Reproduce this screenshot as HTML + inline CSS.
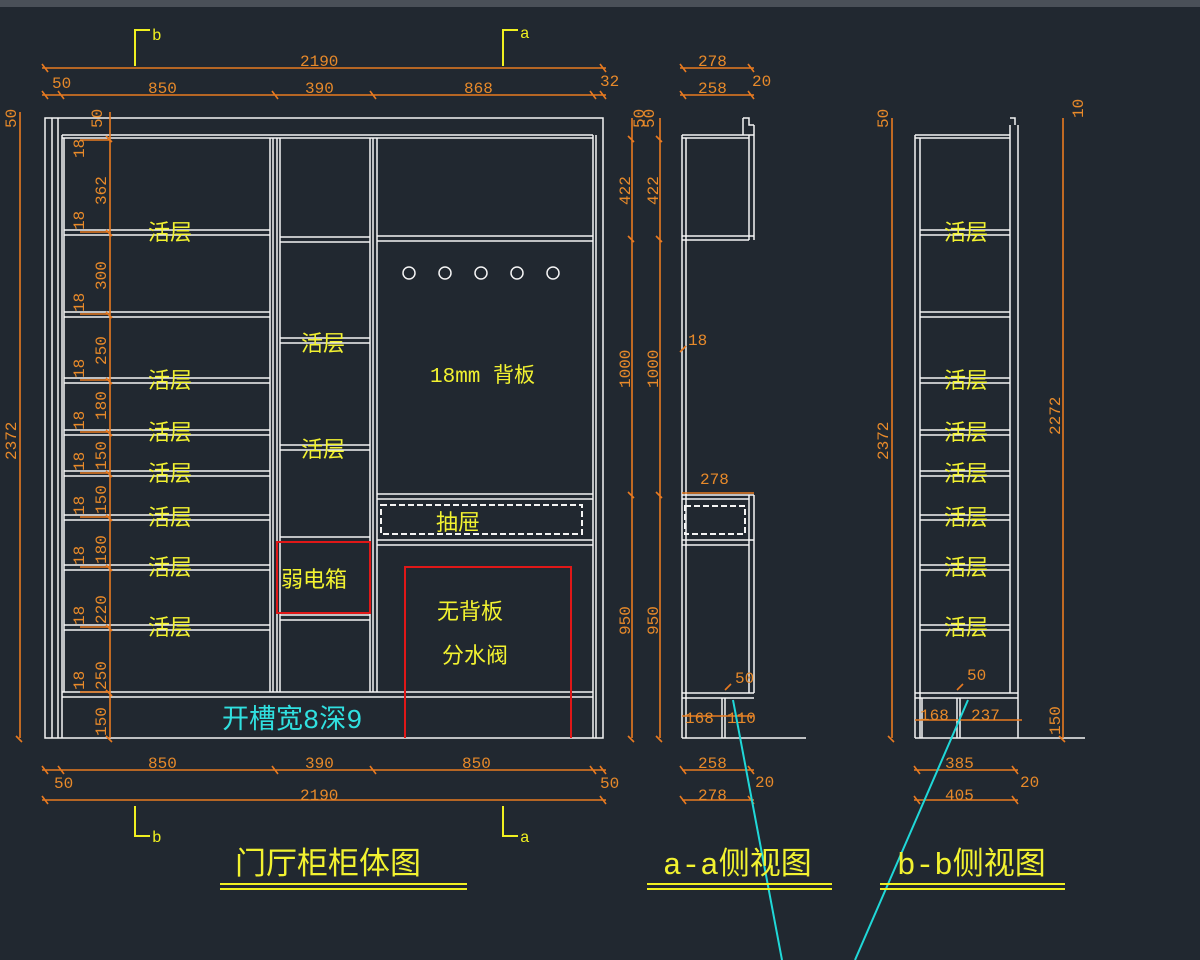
<!DOCTYPE html>
<html><head><meta charset="utf-8"><style>
html,body{margin:0;padding:0;background:#212830;width:1200px;height:960px;overflow:hidden}
svg{display:block}
.w{stroke:#f4f4f4;stroke-width:1.5;fill:none}
.o{stroke:#e87a20;stroke-width:1.6;fill:none}
.r{stroke:#e01818;stroke-width:2;fill:none}
.y{stroke:#f0f020;stroke-width:2;fill:none}
.c{stroke:#20d8d8;stroke-width:2;fill:none}
.d{stroke:#f4f4f4;stroke-width:2;fill:none;stroke-dasharray:6 3}
text{font-family:"Liberation Mono","Noto Sans CJK SC",monospace}
.ot{fill:#e88a2a;font-size:16px}
.yt{fill:#f2f230;font-family:"Liberation Sans","Noto Sans CJK SC",sans-serif;font-size:22px}
</style></head><body>
<svg width="1200" height="960" viewBox="0 0 1200 960">
<rect x="0" y="0" width="1200" height="7" fill="#4a5058"/>
<!-- section markers -->
<path class="y" d="M135 66V30H150M503 66V30H518M135 806V836H150M503 806V836H518"/>
<text x="152" y="40" fill="#f0f020" font-size="16">b</text>
<text x="520" y="38" fill="#f0f020" font-size="16">a</text>
<text x="152" y="842" fill="#f0f020" font-size="16">b</text>
<text x="520" y="842" fill="#f0f020" font-size="16">a</text>
<!-- top dims -->
<path class="o" d="M42 68H606M42 95H606M42 64l6 8M600 64l6 8M42 91l6 8M58 91l6 8M272 91l6 8M370 91l6 8M590 91l6 8M600 91l6 8"/>
<text class="ot" x="300" y="66">2190</text>
<text class="ot" x="52" y="88">50</text><text class="ot" x="148" y="93">850</text>
<text class="ot" x="305" y="93">390</text><text class="ot" x="464" y="93">868</text>
<text class="ot" x="600" y="86">32</text>
<!-- bottom dims -->
<path class="o" d="M42 770H606M42 800H606M42 766l6 8M58 766l6 8M272 766l6 8M370 766l6 8M590 766l6 8M600 766l6 8M42 796l6 8M600 796l6 8"/>
<text class="ot" x="148" y="768">850</text><text class="ot" x="305" y="768">390</text>
<text class="ot" x="462" y="768">850</text><text class="ot" x="54" y="788">50</text><text class="ot" x="600" y="788">50</text>
<text class="ot" x="300" y="800">2190</text>
<!-- main cabinet -->
<path class="w" d="M45 118H603V738H45ZM58 118V738M52 118V738M62 135H593M62 138H593M62 135V738M64 138V692M593 135V738M596 135V738M270 138V692M273 138V692M277 138V692M280 138V692M370 138V692M373 138V692M377 138V692M62 692H593M62 697H593"/>
<path class="w" d="M64 230H270M64 235H270M64 312H270M64 317H270M64 378H270M64 383H270M64 430H270M64 435H270M64 471H270M64 476H270M64 515H270M64 520H270M64 565H270M64 570H270M64 625H270M64 630H270"/>
<path class="w" d="M280 237H370M280 242H370M280 338H370M280 343H370M280 445H370M280 450H370M280 537H370M280 542H370M280 615H370M280 620H370"/>
<path class="w" d="M377 236H593M377 241H593M377 494H593M377 499H593M377 540H593M377 545H593"/>
<rect class="d" x="381" y="505" width="201" height="29"/>
<rect class="r" x="277" y="542" width="93" height="71"/>
<path class="r" d="M405 738V567H571V738"/>
<g class="w"><circle cx="409" cy="273" r="6"/><circle cx="445" cy="273" r="6"/><circle cx="481" cy="273" r="6"/><circle cx="517" cy="273" r="6"/><circle cx="553" cy="273" r="6"/></g>
<!-- left dims -->
<path class="o" d="M20 112V738M110 112V738M16 736l6 6M106 136l6 6M106 230l6 6M106 312l6 6M106 378l6 6M106 430l6 6M106 471l6 6M106 515l6 6M106 565l6 6M106 625l6 6M106 690l6 6M106 736l6 6M80 140H110M80 232H110M80 314H110M80 380H110M80 432H110M80 473H110M80 517H110M80 567H110M80 627H110M80 692H110"/>
<g class="ot" font-size="15">
<text transform="translate(16,128) rotate(-90)">50</text>
<text transform="translate(102,128) rotate(-90)">50</text>
<text transform="translate(84,158) rotate(-90)">18</text>
<text transform="translate(106,205) rotate(-90)">362</text>
<text transform="translate(84,230) rotate(-90)">18</text>
<text transform="translate(106,290) rotate(-90)">300</text>
<text transform="translate(84,312) rotate(-90)">18</text>
<text transform="translate(106,365) rotate(-90)">250</text>
<text transform="translate(84,378) rotate(-90)">18</text>
<text transform="translate(106,420) rotate(-90)">180</text>
<text transform="translate(84,430) rotate(-90)">18</text>
<text transform="translate(106,470) rotate(-90)">150</text>
<text transform="translate(84,471) rotate(-90)">18</text>
<text transform="translate(106,514) rotate(-90)">150</text>
<text transform="translate(84,515) rotate(-90)">18</text>
<text transform="translate(106,564) rotate(-90)">180</text>
<text transform="translate(84,565) rotate(-90)">18</text>
<text transform="translate(106,624) rotate(-90)">220</text>
<text transform="translate(84,625) rotate(-90)">18</text>
<text transform="translate(106,690) rotate(-90)">250</text>
<text transform="translate(84,690) rotate(-90)">18</text>
<text transform="translate(106,736) rotate(-90)">150</text>
<text transform="translate(16,460) rotate(-90)">2372</text>
</g>
<!-- right dims main -->
<path class="o" d="M632 118V738M660 118V738M628 136l6 6M656 136l6 6M628 236l6 6M656 236l6 6M628 492l6 6M656 492l6 6M628 736l6 6M656 736l6 6"/>
<g class="ot" font-size="15">
<text transform="translate(644,128) rotate(-90)">50</text>
<text transform="translate(654,128) rotate(-90)">50</text>
<text transform="translate(630,205) rotate(-90)">422</text><text transform="translate(658,205) rotate(-90)">422</text>
<text transform="translate(630,388) rotate(-90)">1000</text><text transform="translate(658,388) rotate(-90)">1000</text>
<text transform="translate(630,635) rotate(-90)">950</text><text transform="translate(658,635) rotate(-90)">950</text>
</g>
<!-- a-a side view -->
<path class="w" d="M682 135H754M682 138H749M682 135V738M686 138V738M682 236H754M682 240H749M749 135V240M754 125V240M743 118V135M743 118H749V125H754"/>
<path class="w" d="M682 495H754M682 499H749M749 495V693M754 495V693M682 540H754M682 545H749M682 693H754M682 698H754M722 698V738M725 698V738M682 738H806"/>
<rect class="d" x="685" y="506" width="60" height="28"/>
<path class="o" d="M680 68H754M680 95H754M680 64l6 8M748 64l6 8M680 91l6 8M748 91l6 8M682 493H754M682 716H754M682 770H754M682 800H754M680 766l6 8M748 766l6 8M680 796l6 8M748 796l6 8M680 352l6-6M725 690l6-6"/>
<text class="ot" x="698" y="66">278</text><text class="ot" x="698" y="93">258</text><text class="ot" x="752" y="86">20</text>
<text class="ot" x="688" y="345">18</text><text class="ot" x="700" y="484">278</text>
<text class="ot" x="735" y="683">50</text><text class="ot" x="685" y="723">168</text><text class="ot" x="727" y="723">110</text>
<text class="ot" x="698" y="768">258</text><text class="ot" x="755" y="787">20</text><text class="ot" x="698" y="800">278</text>
<!-- b-b side view -->
<path class="w" d="M915 135H1010M915 138H1010M915 135V738M920 138V738M1010 125V693M1018 125V738M1010 118H1015V125M915 693H1018M915 698H1018M922 698V738M957 698V738M960 698V738M915 738H1085"/>
<path class="w" d="M920 230H1010M920 235H1010M920 312H1010M920 317H1010M920 378H1010M920 383H1010M920 430H1010M920 435H1010M920 471H1010M920 476H1010M920 515H1010M920 520H1010M920 565H1010M920 570H1010M920 625H1010M920 630H1010"/>
<path class="o" d="M892 118V738M1063 118V738M888 736l6 6M1059 736l6 6M914 770H1018M914 800H1018M914 766l6 8M1012 766l6 8M914 796l6 8M1012 796l6 8M915 720H1022M957 690l6-6"/>
<g class="ot" font-size="15">
<text transform="translate(888,128) rotate(-90)">50</text>
<text transform="translate(1083,118) rotate(-90)">10</text>
<text transform="translate(888,460) rotate(-90)">2372</text>
<text transform="translate(1060,435) rotate(-90)">2272</text>
<text transform="translate(1060,735) rotate(-90)">150</text>
</g>
<text class="ot" x="967" y="680">50</text><text class="ot" x="920" y="720">168</text><text class="ot" x="971" y="720">237</text>
<text class="ot" x="945" y="768">385</text><text class="ot" x="1020" y="787">20</text><text class="ot" x="945" y="800">405</text>
<!-- cyan -->
<path class="c" d="M733 700L782 960M968 700L855 960"/>
<!-- labels -->
<g class="yt">
<text x="148" y="240">活层</text><text x="148" y="388">活层</text><text x="148" y="440">活层</text>
<text x="148" y="481">活层</text><text x="148" y="525">活层</text><text x="148" y="575">活层</text><text x="148" y="635">活层</text>
<text x="301" y="351">活层</text><text x="301" y="457">活层</text>
<text x="944" y="240">活层</text><text x="944" y="388">活层</text><text x="944" y="440">活层</text>
<text x="944" y="481">活层</text><text x="944" y="525">活层</text><text x="944" y="575">活层</text><text x="944" y="635">活层</text>
<text x="281" y="587">弱电箱</text>
<text x="436" y="530">抽屉</text>
<text x="437" y="619">无背板</text>
<text x="442" y="663">分水阀</text>
<text x="430" y="382" font-size="21">18mm 背板</text>
</g>
<text x="222" y="728" fill="#30e0e0" font-family="Liberation Sans,Noto Sans CJK SC,sans-serif" font-size="27">开槽宽8深9</text>
<g fill="#f2f230" font-family="Liberation Sans,Noto Sans CJK SC,sans-serif" font-size="31">
<text x="235" y="874">门厅柜柜体图</text>
<text x="663" y="874">a-a侧视图</text>
<text x="897" y="874">b-b侧视图</text>
</g>
<path class="y" d="M220 884H467M220 889H467M647 884H832M647 889H832M880 884H1065M880 889H1065"/>
</svg>
</body></html>
